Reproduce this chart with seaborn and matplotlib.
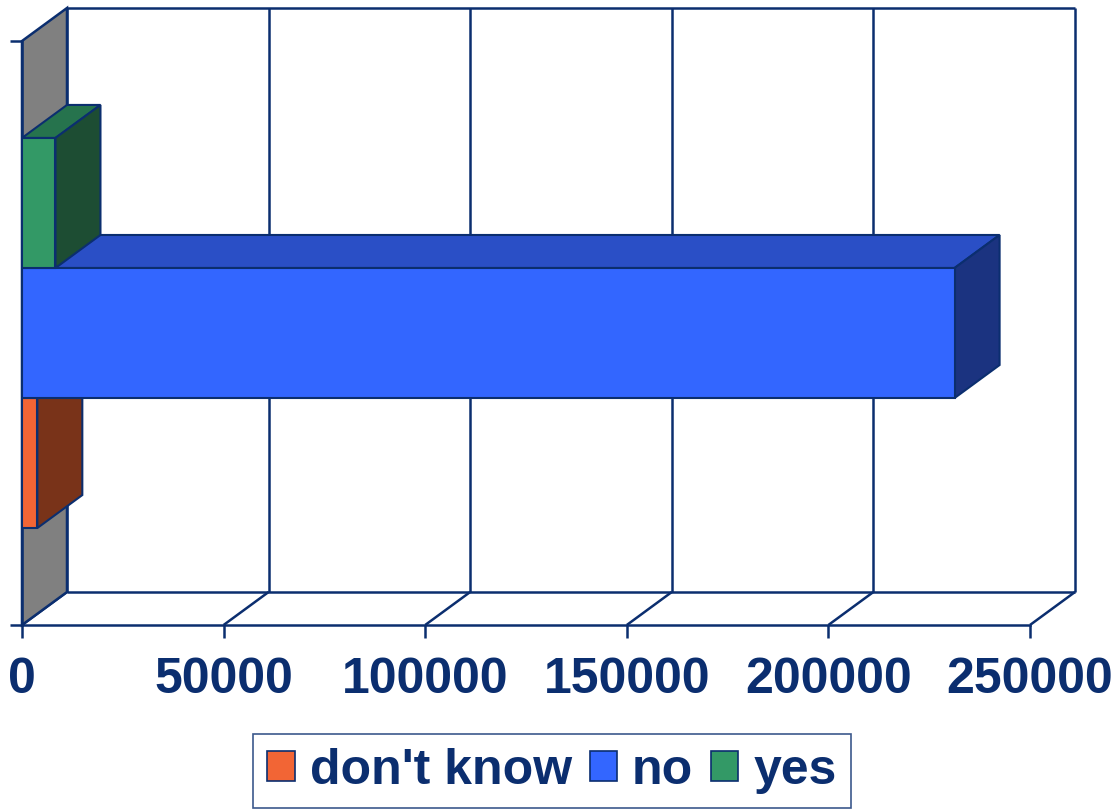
import matplotlib.pyplot as plt
import pandas as pd
import seaborn as sns
from matplotlib.patches import Patch, Polygon

# values
series = ["don't know", "no", "yes"]
counts = [3800, 231300, 8300]
x_ticks = [0, 50000, 100000, 150000, 200000, 250000]

FRONT = ["#F26535", "#3366FF", "#339966"]
TOP = ["#B54C28", "#2A4FC6", "#26734D"]
SIDE = ["#793319", "#1B3380", "#1D4D33"]
NAVY = "#0B2E6F"
WALL = "#808080"
DEPTH = (45, 33)  # 3D offset in pixels

sns.set_style("white")
plt.rcParams["font.family"] = ["Liberation Sans", "DejaVu Sans"]

df = pd.DataFrame({"answer": series, "count": counts, "group": [""] * len(series)})

fig = plt.figure(figsize=(11.17, 8.10), dpi=100)
ax = fig.add_axes([22 / 1117, 185 / 810, 1008 / 1117, 584 / 810])
sns.barplot(data=df, x="count", y="group", hue="answer", hue_order=series,
            palette=FRONT, orient="h", width=0.668, gap=0, saturation=1,
            errorbar=None, edgecolor=NAVY, linewidth=1.5, legend=False, ax=ax)
ax.set_xlim(0, 250000)
ax.set_ylim(-0.5, 0.5)
ax.set_xlabel("")
ax.set_ylabel("")
ax.grid(False)

to_fig = fig.transFigure.inverted()


def front(x, y):
    return ax.transData.transform((x, y))


def back(x, y):
    return ax.transData.transform((x, y)) + DEPTH


def face(pts, color, z, lw=1.5):
    ax.add_patch(Polygon(to_fig.transform(pts), closed=True, facecolor=color,
                         edgecolor=NAVY, linewidth=lw, transform=fig.transFigure,
                         clip_on=False, zorder=z))


def line(p, q, z=0.5):
    pts = to_fig.transform([p, q])
    ax.plot(pts[:, 0], pts[:, 1], color=NAVY, lw=1.8, transform=fig.transFigure,
            clip_on=False, zorder=z, solid_capstyle="butt")


y0, y1 = ax.get_ylim()
xmax = ax.get_xlim()[1]

# back wall grid + outline, floor lines
for t in ax.get_xticks():
    line(back(t, y0), back(t, y1))
    line(front(t, y0), back(t, y0))
line(back(0, y1), back(xmax, y1))
line(back(0, y0), back(xmax, y0))

# left side wall
face([front(0, y0), back(0, y0), back(0, y1), front(0, y1)], WALL, 1, lw=1.8)

# 3D bars: front face from seaborn, plus top and right faces
for i, cont in enumerate(ax.containers):
    for bar in cont:
        z = 3 + i
        bar.set_zorder(z + 0.2)
        bx, by = bar.get_x(), bar.get_y()
        bw, bh = bar.get_width(), bar.get_height()
        face([front(bx, by + bh), front(bx + bw, by + bh),
              back(bx + bw, by + bh), back(bx, by + bh)], TOP[i], z)
        face([front(bx + bw, by), front(bx + bw, by + bh),
              back(bx + bw, by + bh), back(bx + bw, by)], SIDE[i], z + 0.1)

# axes styling
sns.despine(ax=ax, top=True, right=True)
for side in ("left", "bottom"):
    ax.spines[side].set_color(NAVY)
    ax.spines[side].set_linewidth(1.8)
    ax.spines[side].set_zorder(2)
ax.set_xticks(x_ticks)
ax.set_xticklabels([str(t) for t in x_ticks])
ax.set_yticks([y0, y1])
ax.set_yticklabels(["", ""])
ax.tick_params(axis="both", length=9, width=1.8, color=NAVY, direction="out",
               bottom=True, left=True)
ax.tick_params(axis="x", pad=14, labelsize=36, labelcolor=NAVY)
for lbl in ax.get_xticklabels():
    lbl.set_fontweight("bold")

handles = [Patch(facecolor=c, edgecolor=NAVY, linewidth=1.2) for c in FRONT]
leg = fig.legend(handles=handles, labels=series, ncol=3, loc="center",
                 bbox_to_anchor=(552 / 1117, 39 / 810), frameon=True,
                 fancybox=False, edgecolor=NAVY, labelcolor=NAVY,
                 prop=dict(weight="bold", size=36), handlelength=0.55,
                 handleheight=0.55, handletextpad=0.3, columnspacing=0.35,
                 borderpad=0.28)
leg.get_frame().set_linewidth(1.2)

fig.savefig("out.png", dpi=100, facecolor="white")
